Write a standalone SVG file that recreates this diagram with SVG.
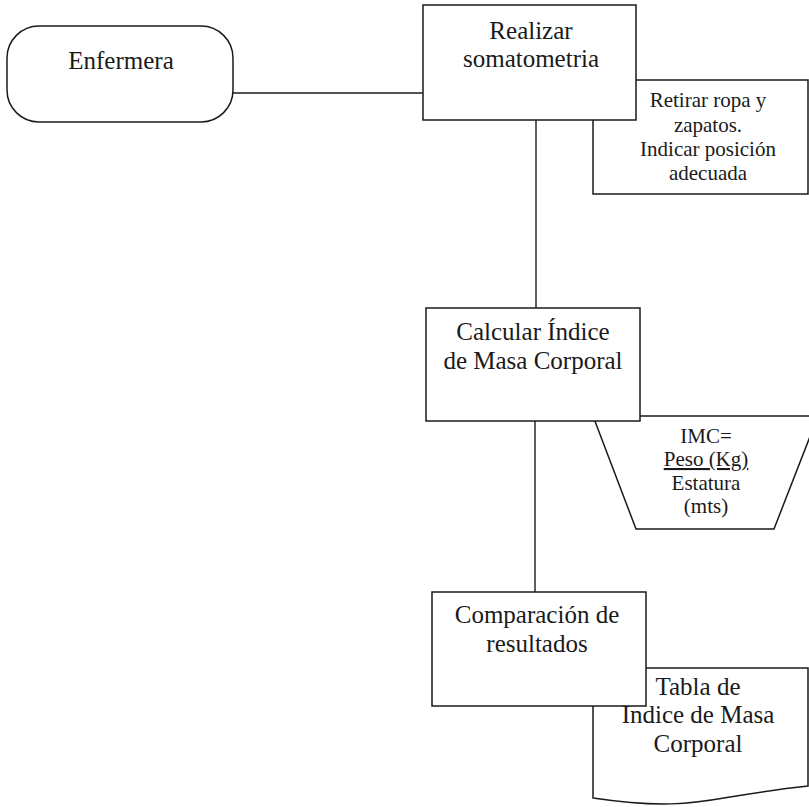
<svg xmlns="http://www.w3.org/2000/svg" width="809" height="807" viewBox="0 0 809 807">
  <style>
    .shape { fill: #ffffff; stroke: #1a1a1a; stroke-width: 1.5; }
    .conn { fill: none; stroke: #1a1a1a; stroke-width: 1.4; }
    text { font-family: 'Liberation Serif', 'DejaVu Serif', serif; fill: #1a1a1a; text-anchor: middle; }
    .big { font-size: 25px; }
    .small { font-size: 21px; }
  </style>
  <rect width="809" height="807" fill="#ffffff"/>

  <!-- connectors -->
  <g id="connectors">
    <line class="conn" x1="233" y1="93" x2="423" y2="93"/>
    <line class="conn" x1="536" y1="120" x2="536" y2="308"/>
    <line class="conn" x1="535" y1="421" x2="535" y2="592"/>
  </g>

  <g font-family="Liberation Serif, serif">
    <!-- start terminal -->
    <g id="enfermera">
      <rect class="shape" x="7" y="26" width="226" height="96" rx="32" ry="32"/>
      <text class="big" x="121" y="69">Enfermera</text>
    </g>

    <!-- annotation behind the first step -->
    <g id="retirar">
      <rect class="shape" x="593" y="80" width="215" height="114"/>
      <text class="small" x="708" y="107">Retirar ropa y</text>
      <text class="small" x="708" y="132">zapatos.</text>
      <text class="small" x="708" y="156">Indicar posición</text>
      <text class="small" x="708" y="180">adecuada</text>
    </g>

    <g id="realizar">
      <rect class="shape" x="423" y="5" width="213" height="115"/>
      <text class="big" x="531" y="39">Realizar</text>
      <text class="big" x="531" y="67">somatometria</text>
    </g>

    <!-- manual operation: formula -->
    <g id="formula">
      <polygon class="shape" points="593,416 818,416 774,529 636,529"/>
      <text class="small" x="706" y="443">IMC=</text>
      <text class="small" x="706" y="466" text-decoration="underline">Peso (Kg)</text>
      <text class="small" x="706" y="490">Estatura</text>
      <text class="small" x="706" y="513">(mts)</text>
    </g>

    <g id="calcular">
      <rect class="shape" x="426" y="308" width="214" height="113"/>
      <text class="big" x="533" y="340">Calcular Índice</text>
      <text class="big" x="533" y="369">de Masa Corporal</text>
    </g>

    <!-- document: reference table -->
    <g id="tabla">
      <path class="shape" d="M593,668 H808 V786 C780,789 760,792 730,797 C690,804 660,808 593,798 Z"/>
      <text class="big" x="698" y="695">Tabla de</text>
      <text class="big" x="698" y="723">Indice de Masa</text>
      <text class="big" x="698" y="752">Corporal</text>
    </g>

    <g id="comparacion">
      <rect class="shape" x="432" y="592" width="214" height="114"/>
      <text class="big" x="537" y="623">Comparación de</text>
      <text class="big" x="537" y="652">resultados</text>
    </g>
  </g>
</svg>
